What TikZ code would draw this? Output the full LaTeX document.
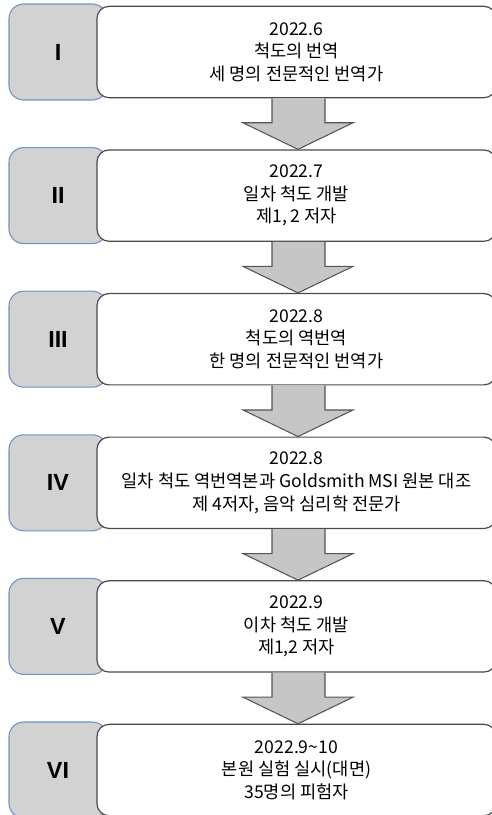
\documentclass[tikz,border=0pt]{standalone}
\usepackage{fontspec}
\setmainfont{Noto Sans CJK KR}
\newfontfamily\numfont{Liberation Sans}
\usetikzlibrary{calc}
\definecolor{numgray}{HTML}{D2D2D2}
\definecolor{numblue}{HTML}{7191C4}
\definecolor{boxline}{HTML}{4A4A4A}
\definecolor{arrgray}{HTML}{C6C6C6}
\definecolor{arrline}{HTML}{555555}
\begin{document}
\begin{tikzpicture}[x=0.75pt,y=-0.75pt]
\tikzset{
  numbox/.style={draw=numblue, fill=numgray, rounded corners=11pt, line width=0.8pt,
    minimum width=73.5pt, minimum height=72pt, inner sep=0pt,
    font=\numfont\bfseries\fontsize{17.5}{19}\selectfont},
  txtbox/.style={draw=boxline, fill=white, rounded corners=9pt, line width=0.9pt,
    minimum width=299.25pt, minimum height=68.5pt, inner sep=0pt, align=center,
    font=\fontsize{13.2}{17}\selectfont},
  bigarrow/.style={draw=arrline, fill=arrgray, line width=0.8pt, line join=miter}
}
\useasboundingbox (0,0) rectangle (492,815);
% step boxes
\node[numbox] (n1) at (58,52) {I};
\node[txtbox] (w1) at (296.5,52) {2022.6\\척도의 번역\\세 명의 전문적인 번역가};
\node[numbox] (n2) at (58,195.6) {II};
\node[txtbox] (w2) at (296.5,195.6) {2022.7\\일차 척도 개발\\제1, 2 저자};
\node[numbox] (n3) at (58,339.2) {III};
\node[txtbox] (w3) at (296.5,339.2) {2022.8\\척도의 역번역\\한 명의 전문적인 번역가};
\node[numbox] (n4) at (58,482.8) {IV};
\node[txtbox] (w4) at (296.5,482.8) {2022.8\\일차 척도 역번역본과 Goldsmith MSI 원본 대조\\제 4저자, 음악 심리학 전문가};
\node[numbox] (n5) at (58,626.4) {V};
\node[txtbox] (w5) at (296.5,626.4) {2022.9\\이차 척도 개발\\제1,2 저자};
\node[numbox] (n6) at (58,770) {VI};
\node[txtbox] (w6) at (296.5,770) {2022.9\textasciitilde10\\본원 실험 실시(대면)\\35명의 피험자};
% block arrows
\foreach \a/\b in {w1/w2, w2/w3, w3/w4, w4/w5, w5/w6}{
  \draw[bigarrow] ($(\a.south)+(-24.5,0)$) -- ($(\a.south)+(-24.5,24.5)$)
    -- ($(\a.south)+(-53.5,24.5)$) -- ($(\b.north)+(1.5,0)$)
    -- ($(\a.south)+(56.5,24.5)$) -- ($(\a.south)+(28.5,24.5)$)
    -- ($(\a.south)+(28.5,0)$);
}
\end{tikzpicture}
\end{document}
